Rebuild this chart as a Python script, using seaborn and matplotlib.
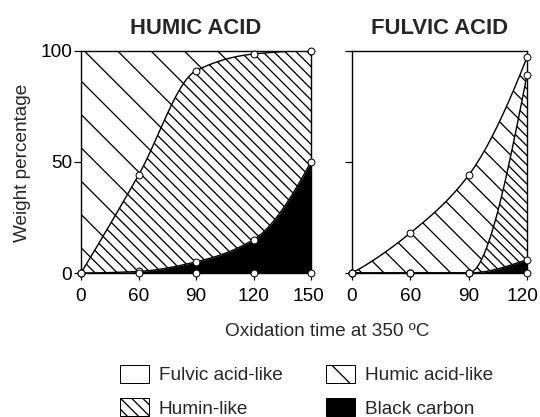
import matplotlib.pyplot as plt
import numpy as np
import seaborn as sns
from matplotlib.patches import Patch
from matplotlib.transforms import ScaledTranslation

# high dpi so the hatch spacings can match the reference; sizes below are given in pixels
DPI = 200
PT = 72 / DPI  # points per pixel

# cumulative weight percentages (stacked from the bottom)
humic_times = [0, 60, 90, 120, 150]
humic_upper = [0, 44, 91, 98.5, 100]   # black carbon + humin-like
humic_lower = [0, 0.7, 5, 15, 50]      # black carbon

fulvic_times = [0, 60, 90, 120]
fulvic_upper = [0, 18, 44, 97]         # black carbon + humin-like + humic acid-like
fulvic_middle = [0, 0, 0, 89]          # black carbon + humin-like
fulvic_lower = [0, 0, 0, 6]            # black carbon

legend_labels = ["Fulvic acid-like", "Humin-like", "Humic acid-like", "Black carbon"]


def end_slope(d0, d1):
    m = (3 * d0 - d1) / 2
    if np.sign(m) != np.sign(d0):
        return 0.0
    if np.sign(d0) != np.sign(d1) and abs(m) > 3 * abs(d0):
        return 3 * d0
    return m


def smooth(y, n=300):
    """Monotone cubic curve through equally spaced points (for drawing only)"""
    y = np.asarray(y, dtype=float)
    d = np.diff(y)
    m = np.zeros_like(y)
    for k in range(1, len(y) - 1):
        if d[k - 1] * d[k] > 0:
            m[k] = 2 / (1 / d[k - 1] + 1 / d[k])
    m[0] = end_slope(d[0], d[1])
    m[-1] = end_slope(d[-1], d[-2])
    xs = np.linspace(0, len(y) - 1, n)
    k = np.minimum(xs.astype(int), len(y) - 2)
    t = xs - k
    ys = ((2 * t**3 - 3 * t**2 + 1) * y[k] + (t**3 - 2 * t**2 + t) * m[k]
          + (-2 * t**3 + 3 * t**2) * y[k + 1] + (t**3 - t**2) * m[k + 1])
    return xs, ys


sns.set_theme(style="ticks", rc={
    "axes.edgecolor": "black",
    "xtick.color": "black",
    "ytick.color": "black",
    "hatch.linewidth": 1.3 * PT,
})
plt.rcParams["font.family"] = ["Liberation Sans", "DejaVu Sans"]

LINE = 1.4 * PT
HATCH_HUMIC_SPARSE = "\\" * 2    # ~16 px spacing
HATCH_HUMIC_DENSE = "\\" * 6     # ~6 px
HATCH_FULVIC_SPARSE = "\\" * 3   # ~11 px
HATCH_FULVIC_DENSE = "\\" * 7    # ~5 px

fig = plt.figure(figsize=(540 / DPI, 417 / DPI), dpi=DPI)
ax1 = fig.add_axes([81 / 540, 144 / 417, 230 / 540, 222.3 / 417])
ax2 = fig.add_axes([352 / 540, 144 / 417, 175 / 540, 222.3 / 417])


def draw_panel(ax, times, curves, hatches, title):
    pos = np.arange(len(times))
    smooth_curves = [smooth(c) for c in curves]
    xs = smooth_curves[0][0]
    bounds = [np.full_like(xs, 100.0)] + [c[1] for c in smooth_curves] + [np.zeros_like(xs)]
    # regions from the top down
    for i, hatch in enumerate(hatches):
        if hatch == "black":
            ax.fill_between(xs, bounds[i + 1], bounds[i], facecolor="black",
                            edgecolor="black", linewidth=0)
        elif hatch is not None:
            ax.fill_between(xs, bounds[i + 1], bounds[i], facecolor="white",
                            edgecolor="black", linewidth=0, hatch=hatch)
    for sx, sy in smooth_curves:
        sns.lineplot(x=sx, y=sy, ax=ax, color="black", linewidth=LINE,
                     estimator=None, sort=False)
    for c in curves + [[0] * len(times)]:
        sns.scatterplot(x=pos, y=c, ax=ax, s=(6 * PT) ** 2 * 1.3, color="white",
                        edgecolor="black", linewidth=1.0 * PT, zorder=5, clip_on=False)
    ax.set_xlim(0, len(times) - 1)
    ax.set_ylim(0, 100)
    ax.set_xticks(pos)
    ax.set_xticklabels([str(t) for t in times])
    ax.set_yticks([0, 50, 100])
    ax.tick_params(axis="both", direction="out", length=7 * PT, width=1.2 * PT,
                   labelsize=19 * PT)
    ax.tick_params(axis="x", pad=8 * PT)
    ax.tick_params(axis="y", pad=2 * PT)
    for sp in ax.spines.values():
        sp.set_visible(True)
        sp.set_linewidth(LINE)
        sp.set_zorder(4)
    ax.set_title(title, fontsize=22 * PT, fontweight="bold", pad=17 * PT)
    ax.set_xlabel("")
    ax.set_ylabel("")


draw_panel(ax1, humic_times, [humic_upper, humic_lower],
           [HATCH_HUMIC_SPARSE, HATCH_HUMIC_DENSE, "black"], "HUMIC ACID")
draw_panel(ax2, fulvic_times, [fulvic_upper, fulvic_middle, fulvic_lower],
           [None, HATCH_FULVIC_SPARSE, HATCH_FULVIC_DENSE, "black"], "FULVIC ACID")
ax2.set_yticklabels([])

# the last labels sit a little left of their ticks in the reference
for ax, shift in [(ax1, -3), (ax2, -5)]:
    lbl = ax.get_xticklabels()[-1]
    lbl.set_transform(lbl.get_transform() + ScaledTranslation(shift / DPI, 0, fig.dpi_scale_trans))

fig.text(23 / 540, 1 - 163 / 417, "Weight percentage", rotation=90,
         ha="center", va="center", fontsize=19 * PT)
fig.text(327 / 540, 1 - 331 / 417, "Oxidation time at 350 ºC",
         ha="center", va="center", fontsize=19 * PT)

handles = [
    Patch(facecolor="white", edgecolor="black", linewidth=1.0 * PT),
    Patch(facecolor="white", edgecolor="black", linewidth=1.0 * PT, hatch=HATCH_HUMIC_DENSE),
    Patch(facecolor="white", edgecolor="black", linewidth=1.0 * PT, hatch=HATCH_HUMIC_SPARSE),
    Patch(facecolor="black", edgecolor="black", linewidth=1.0 * PT),
]
fig.legend(handles, legend_labels, ncol=2, frameon=False, fontsize=19 * PT,
           loc="upper left", bbox_to_anchor=(120 / 540, 1 - 365 / 417),
           borderpad=0, borderaxespad=0, handlelength=29 / 19, handleheight=20 / 19,
           handletextpad=10 / 19, columnspacing=43 / 19, labelspacing=14 / 19)

fig.savefig("out.png", dpi=DPI)
